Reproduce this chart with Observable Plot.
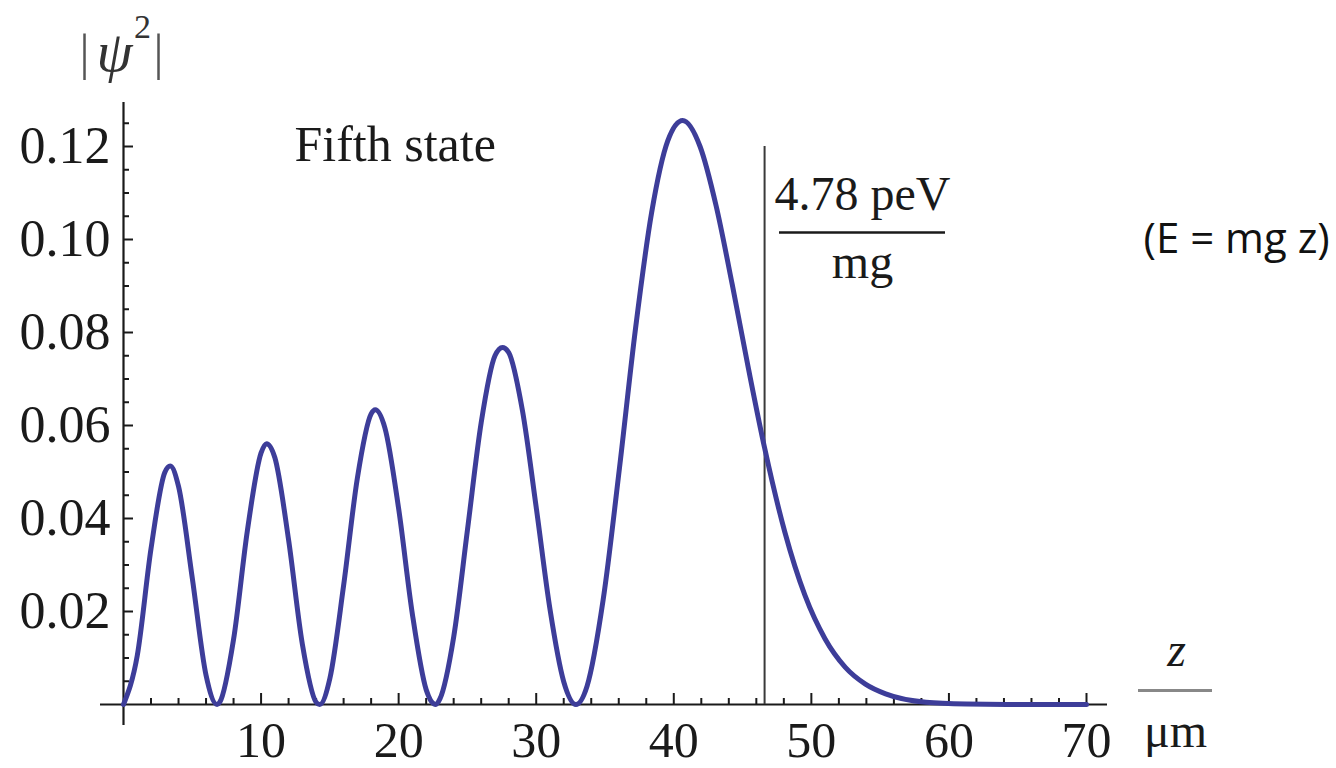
<!DOCTYPE html>
<html><head><meta charset="utf-8">
<script src="https://cdn.jsdelivr.net/npm/d3@7"></script>
<script src="https://cdn.jsdelivr.net/npm/@observablehq/plot@0.6"></script>
<style>html,body{margin:0;padding:0;background:#fff;}</style>
</head><body><div id="chart"></div>
<script>
// ---- data ----
const zValues   = [0, 1, 2, 3, 3.4, 4, 5, 6, 6.8, 7, 8, 9, 10, 10.4, 11, 12, 13, 14, 14.26, 15, 16, 17, 18, 18.3, 19, 20, 21, 22, 22.7, 23, 24, 25, 26, 27, 27.55, 28, 29, 30, 31, 32, 32.89, 33.7, 34.87, 36.05, 37.22, 38.39, 39.56, 40.65, 41.91, 43.08, 44.25, 45.43, 46.6, 48.07, 49.53, 51.0, 52.47, 53.93, 55.4, 58.33, 61.27, 64.2, 70.0];
const psiValues = [0, 0.0105, 0.0335, 0.0499, 0.0513, 0.0469, 0.0272, 0.0063, 0, 0.0005, 0.0140, 0.0373, 0.0541, 0.0561, 0.0531, 0.0354, 0.0130, 0.0005, 0, 0.0056, 0.0256, 0.0487, 0.0625, 0.0634, 0.0595, 0.0421, 0.0194, 0.0032, 0, 0.0012, 0.0145, 0.0375, 0.0606, 0.0750, 0.0768, 0.0757, 0.0632, 0.0424, 0.0205, 0.0049, 0, 0.0040, 0.0226, 0.0508, 0.0809, 0.1058, 0.1212, 0.1256, 0.1200, 0.1072, 0.0903, 0.0722, 0.0552, 0.0371, 0.0235, 0.0141, 0.0080, 0.0044, 0.0023, 0.0005, 0.0001, 0, 0];
const xMajorTicks = [10, 20, 30, 40, 50, 60, 70];
const xTickLabels = ["10", "20", "30", "40", "50", "60", "70"];
const xMinorTicks = [2, 4, 6, 8, 12, 14, 16, 18, 22, 24, 26, 28, 32, 34, 36, 38, 42, 44, 46, 48, 52, 54, 56, 58, 62, 64, 66, 68];
const yMajorTicks = [0.02, 0.04, 0.06, 0.08, 0.10, 0.12];
const yTickLabels = ["0.02", "0.04", "0.06", "0.08", "0.10", "0.12"];
const yMinorTicks = [0.005, 0.01, 0.015, 0.025, 0.03, 0.035, 0.045, 0.05, 0.055, 0.065, 0.07, 0.075, 0.085, 0.09, 0.095, 0.105, 0.11, 0.115, 0.125];
const turningPoint = [46.6];
const stateLabel = "Fifth state";
const energyLabel = "4.78 peV";
const energyDenominator = "mg";
const relationLabel = "(E = mg z)";

// ---- layout ----
const W = 1336, H = 768, mL = 123, mR = 250, mT = 146, mB = 64;
const xDom = [0, 70], yDom = [0, 0.12];
const pxX = (W - mL - mR) / (xDom[1] - xDom[0]);
const pxY = (H - mT - mB) / (yDom[1] - yDom[0]);
const X = px => (px - mL) / pxX;          // pixel -> data (annotations only)
const Y = py => (H - mB - py) / pxY;
const serif = "Liberation Serif";
const ink = "#1a1a1a";

const curve = zValues.map((z, i) => ({z, p: psiValues[i]}));
const xLab = xMajorTicks.map((v, i) => ({v, t: xTickLabels[i]}));
const yLab = yMajorTicks.map((v, i) => ({v, t: yTickLabels[i]}));

const chart = Plot.plot({
  width: W, height: H,
  marginLeft: mL, marginRight: mR, marginTop: mT, marginBottom: mB,
  x: {domain: xDom, axis: null},
  y: {domain: yDom, axis: null},
  style: {background: "#fff", overflow: "visible"},
  marks: [
    // axes
    Plot.ruleY([0], {x1: X(100), x2: X(1107), stroke: ink, strokeWidth: 2.2}),
    Plot.ruleX([0], {y1: Y(725), y2: Y(102), stroke: ink, strokeWidth: 2.2}),
    Plot.ruleX(xMajorTicks, {x: d => d, y1: 0, y2: 11 / pxY, stroke: ink, strokeWidth: 2}),
    Plot.ruleX(xMinorTicks, {x: d => d, y1: 0, y2: 6 / pxY, stroke: ink, strokeWidth: 2}),
    Plot.ruleY(yMajorTicks, {y: d => d, x1: 0, x2: 10 / pxX, stroke: ink, strokeWidth: 2}),
    Plot.ruleY(yMinorTicks, {y: d => d, x1: 0, x2: 6 / pxX, stroke: ink, strokeWidth: 2}),
    Plot.text(xLab, {x: "v", y: 0, dy: 36, text: "t", fontSize: 50, fontFamily: serif, fill: ink}),
    Plot.text(yLab, {x: 0, y: "v", dx: -13, text: "t", textAnchor: "end", fontSize: 52, fontFamily: serif, fill: ink}),
    // classical turning point
    Plot.ruleX(turningPoint, {x: d => d, y1: 0, y2: Y(146), stroke: "#3a3a3a", strokeWidth: 2}),
    // the probability density
    Plot.line(curve, {x: "z", y: "p", stroke: "#3d3d99", strokeWidth: 5, curve: "monotone-x"}),
    // annotations
    Plot.text([stateLabel], {x: X(294), y: Y(144), text: d => d, textAnchor: "start", fontSize: 50, fontFamily: serif, fill: ink}),
    Plot.text([energyLabel], {x: X(862), y: Y(194), text: d => d, fontSize: 48, fontFamily: serif, fill: ink}),
    Plot.ruleY([Y(232)], {x1: X(779), x2: X(945), stroke: ink, strokeWidth: 2.5}),
    Plot.text([energyDenominator], {x: X(862), y: Y(262), text: d => d, fontSize: 48, fontFamily: serif, fill: ink}),
    Plot.text([relationLabel], {x: X(1143), y: Y(239), text: d => d, textAnchor: "start", fontSize: 42, fontFamily: "Open Sans", fill: "#111"}),
    // axis titles
    Plot.text(["|"], {x: X(84), y: Y(52), text: d => d, fontSize: 50, fontFamily: serif, fill: "#555"}),
    Plot.text(["ψ"], {x: X(114), y: Y(52), text: d => d, fontSize: 58, fontStyle: "italic", fontFamily: serif, fill: "#333"}),
    Plot.text(["2"], {x: X(142), y: Y(27), text: d => d, fontSize: 34, fontFamily: serif, fill: "#333"}),
    Plot.text(["|"], {x: X(158), y: Y(52), text: d => d, fontSize: 50, fontFamily: serif, fill: "#555"}),
    Plot.text(["z"], {x: X(1176), y: Y(650), text: d => d, fontSize: 48, fontStyle: "italic", fontFamily: serif, fill: ink}),
    Plot.ruleY([Y(690)], {x1: X(1138), x2: X(1212), stroke: "#888", strokeWidth: 3}),
    Plot.text(["μm"], {x: X(1175), y: Y(731), text: d => d, fontSize: 48, fontFamily: serif, fill: ink})
  ]
});
document.getElementById("chart").appendChild(chart);
</script>
</body></html>
